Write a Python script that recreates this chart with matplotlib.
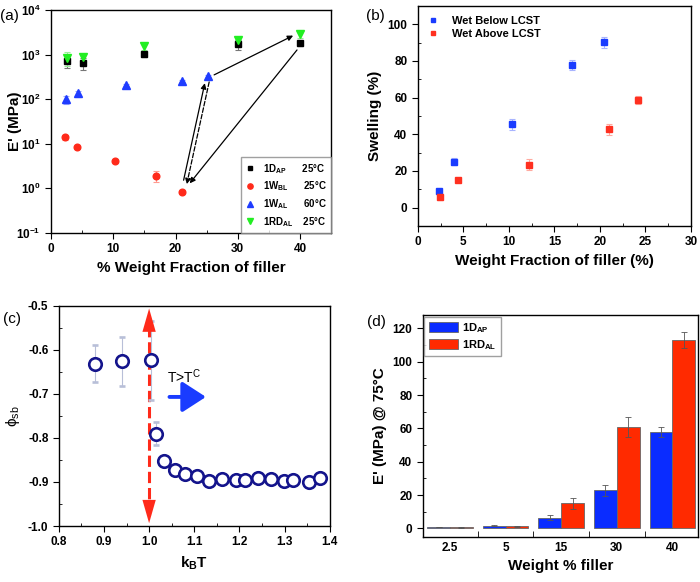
import numpy as np
import matplotlib
matplotlib.use('Agg')
import matplotlib.pyplot as plt
from matplotlib.ticker import MultipleLocator, FixedLocator
from matplotlib.lines import Line2D

plt.rcParams['font.family'] = ['Liberation Sans', 'DejaVu Sans']
plt.rcParams['font.weight'] = 'bold'
plt.rcParams['axes.labelweight'] = 'bold'
plt.rcParams['axes.linewidth'] = 1.0
plt.rcParams['xtick.major.size'] = 4
plt.rcParams['ytick.major.size'] = 4
plt.rcParams['xtick.minor.size'] = 2.5
plt.rcParams['ytick.minor.size'] = 2.5

# (a) storage modulus vs filler fraction
a_1d_x = [2.5, 5.2, 15, 30, 40]
a_1d_y = [713, 645, 1020, 1700, 1780]
a_1d_err = [220, 200, 150, 450, 250]
a_1wbl_x = [2.3, 4.1, 10.3, 16.8, 21.0]
a_1wbl_y = [13.9, 8.3, 4.1, 1.9, 0.83]
a_1wbl_err = [1.5, 0.8, 0.4, 0.5, 0.1]
a_1wal_x = [2.4, 4.4, 12.1, 21.0, 25.2]
a_1wal_y = [100, 135, 208, 256, 330]
a_1wal_err = [20, 20, 10, 15, 20]
a_1rd_x = [2.5, 5.2, 15, 30, 40]
a_1rd_y = [857, 890, 1550, 2100, 2850]
a_1rd_err = [300, 150, 300, 300, 500]
a_labels = ['1D$_\\mathregular{AP}$      25°C', '1W$_\\mathregular{BL}$      25°C',
            '1W$_\\mathregular{AL}$      60°C', '1RD$_\\mathregular{AL}$    25°C']

# (b) swelling
b_below_x = [2.3, 4.0, 10.3, 16.9, 20.4]
b_below_y = [8.9, 25.0, 45.4, 77.8, 90.2]
b_below_err = [1.5, 2, 3, 2.5, 3]
b_above_x = [2.4, 4.4, 12.2, 21.0, 24.2]
b_above_y = [5.8, 14.9, 23.3, 42.8, 58.7]
b_above_err = [1.5, 1, 3, 3, 2]

# (c) phi_sb vs kBT
c_x = [0.880, 0.939, 1.005, 1.016, 1.034, 1.057, 1.080, 1.107, 1.133, 1.162,
       1.192, 1.213, 1.241, 1.271, 1.298, 1.319, 1.354, 1.378]
c_y = [-0.632, -0.626, -0.624, -0.791, -0.852, -0.873, -0.883, -0.887, -0.897, -0.894,
       -0.895, -0.895, -0.891, -0.893, -0.897, -0.895, -0.899, -0.892]
c_err = [0.042, 0.056, 0.09, 0.026, 0.008, 0.008, 0.008, 0.008, 0.008, 0.008,
         0.008, 0.008, 0.008, 0.008, 0.008, 0.008, 0.008, 0.008]

# (d) bars
d_cats = ['2.5', '5', '15', '30', '40']
d_1d = [0.8, 1.6, 6.3, 22.8, 57.8]
d_1d_err = [0.2, 0.2, 1.5, 3.5, 3.0]
d_1rd = [0.7, 1.3, 15.0, 61.0, 113.0]
d_1rd_err = [0.2, 0.2, 3.5, 6.0, 5.0]

fig = plt.figure(figsize=(7.0, 5.82), dpi=100)

def style(ax):
    ax.tick_params(which='major', direction='out', labelsize=8.5)
    ax.tick_params(which='minor', direction='in')
    for lab in ax.get_xticklabels() + ax.get_yticklabels():
        lab.set_fontweight('bold')

# ---- (a)
ax = fig.add_axes([0.073, 0.5997, 0.400, 0.383])
ax.set_yscale('log')
ekw = dict(ls='none', capsize=2, elinewidth=0.8, capthick=0.8)
sets = [(a_1d_x, a_1d_y, a_1d_err, 's', 4.2, 'black', '#777777'),
        (a_1wbl_x, a_1wbl_y, a_1wbl_err, 'o', 4.8, '#ff2a1a', '#ff9a90'),
        (a_1wal_x, a_1wal_y, a_1wal_err, '^', 5.2, '#1f3cff', '#9aa8ff'),
        (a_1rd_x, a_1rd_y, a_1rd_err, 'v', 5.8, '#22ee22', '#99f099')]
handles = []
for (xs, ys, es, m, ms, c, ec), lab in zip(sets, a_labels):
    ax.errorbar(xs, ys, yerr=es, marker=m, ms=ms, color=c, ecolor=ec, **ekw)
    handles.append(Line2D([], [], ls='none', marker=m, ms=ms - 1, color=c, label=lab))
# arrows between states
akw = dict(arrowstyle='-|>', color='black', lw=0.9, mutation_scale=8)
ax.annotate('', xy=(a_1wal_x[-1] - 0.4, a_1wal_y[-1] * 0.8), xytext=(a_1wbl_x[-1] + 0.2, a_1wbl_y[-1] * 1.6), arrowprops=akw)
ax.annotate('', xy=(a_1wbl_x[-1] + 0.7, a_1wbl_y[-1] * 1.3), xytext=(a_1wal_x[-1] + 0.3, a_1wal_y[-1] * 0.85),
            arrowprops=dict(akw, linestyle='--'))
ax.annotate('', xy=(a_1rd_x[-1] - 0.7, a_1rd_y[-1] * 1.0), xytext=(a_1wal_x[-1] + 0.6, a_1wal_y[-1] * 1.0), arrowprops=akw)
ax.annotate('', xy=(a_1wbl_x[-1] + 1.0, a_1wbl_y[-1] * 1.4), xytext=(a_1d_x[-1] - 0.2, a_1d_y[-1] * 0.8), arrowprops=akw)
ax.set_xlim(0, 45)
ax.set_ylim(0.1, 1e4)
ax.xaxis.set_major_locator(MultipleLocator(10))
ax.xaxis.set_minor_locator(MultipleLocator(5))
ax.yaxis.set_minor_locator(FixedLocator([]))
ax.set_xlabel('% Weight Fraction of filler', fontsize=11)
ax.set_ylabel("E' (MPa)", fontsize=11)
ax.yaxis.set_label_coords(-0.105, 0.5)
leg = ax.legend(handles=handles, loc='lower right', fontsize=7, borderaxespad=0, frameon=True, fancybox=False,
                edgecolor='#888888', handletextpad=0.8, labelspacing=0.4, handlelength=1.0,
                borderpad=0.45)
for t in leg.get_texts():
    t.set_fontweight('bold')
style(ax)
fig.text(0.0, 0.965, '(a)', fontsize=11, fontweight='normal')

# ---- (b)
ax = fig.add_axes([0.597, 0.6117, 0.390, 0.378])
ax.errorbar(b_below_x, b_below_y, yerr=b_below_err, marker='s', ms=3.8, color='#1a3cff', ecolor='#a8b4ff', **ekw)
ax.errorbar(b_above_x, b_above_y, yerr=b_above_err, marker='s', ms=3.8, color='#ff3020', ecolor='#ffaaa0', **ekw)
ax.set_xlim(0, 30)
ax.set_ylim(-10, 110)
ax.xaxis.set_major_locator(MultipleLocator(5))
ax.xaxis.set_minor_locator(MultipleLocator(2.5))
ax.yaxis.set_major_locator(FixedLocator([0, 20, 40, 60, 80, 100]))
ax.yaxis.set_minor_locator(FixedLocator([10, 30, 50, 70, 90]))
ax.set_xlabel('Weight Fraction of filler (%)', fontsize=11)
ax.set_ylabel('Swelling (%)', fontsize=11)
bh = [Line2D([], [], ls='none', marker='s', ms=3.5, color='#1a3cff', label='Wet Below LCST'),
      Line2D([], [], ls='none', marker='s', ms=3.5, color='#ff3020', label='Wet Above LCST')]
leg = ax.legend(handles=bh, loc='upper left', fontsize=8, frameon=False, handletextpad=1.2, labelspacing=0.3, handlelength=1.0)
for t in leg.get_texts():
    t.set_fontweight('bold')
style(ax)
fig.text(0.523, 0.965, '(b)', fontsize=11, fontweight='normal')

# ---- (c)
ax = fig.add_axes([0.084, 0.0962, 0.387, 0.3785])
ax.errorbar(c_x, c_y, yerr=c_err, ls='none', marker='o', ms=9, mfc='white', mec='#14148c', mew=1.9,
            ecolor='#b8bfd8', elinewidth=0.8, capsize=2.5, capthick=0.8, zorder=3)
ax.plot([1.0, 1.0], [-0.975, -0.525], ls='--', color='#ff2a1a', lw=2.2, zorder=2)
hkw = dict(arrowstyle='-|>,head_length=1.4,head_width=0.4', color='#ff2a1a', lw=0, mutation_scale=12)
ax.annotate('', xy=(1.0, -0.5), xytext=(1.0, -0.54), arrowprops=hkw)
ax.annotate('', xy=(1.0, -1.0), xytext=(1.0, -0.96), arrowprops=hkw)
ax.annotate('', xy=(1.132, -0.707), xytext=(1.039, -0.707),
            arrowprops=dict(arrowstyle='-|>,head_length=0.85,head_width=0.55', color='#1a3cff', lw=2.8, mutation_scale=17))
ax.text(1.04, -0.675, 'T>T$^\\mathregular{C}$', fontsize=10, fontweight='normal')
ax.set_xlim(0.8, 1.4)
ax.set_ylim(-1.0, -0.5)
ax.xaxis.set_minor_locator(MultipleLocator(0.05))
ax.yaxis.set_minor_locator(MultipleLocator(0.05))
ax.set_xticks(np.arange(0.8, 1.41, 0.1))
ax.set_xticklabels(['%.1f' % v for v in np.arange(0.8, 1.41, 0.1)])
ax.set_yticks(np.arange(-1.0, -0.49, 0.1))
ax.set_yticklabels(['%.1f' % v for v in np.arange(-1.0, -0.49, 0.1)])
ax.set_xlabel('k$_\\mathregular{B}$T', fontsize=11)
ax.set_ylabel('\u03d5$_\\mathregular{sb}$', fontsize=11, fontweight='normal')
style(ax)
fig.text(0.004, 0.445, '(c)', fontsize=11, fontweight='normal')

# ---- (d)
ax = fig.add_axes([0.604, 0.0778, 0.393, 0.381])
pos = np.arange(len(d_cats))
w = 0.41
ax.bar(pos - w / 2, d_1d, width=w, yerr=d_1d_err, color='#0a2cff', edgecolor='#666666', linewidth=0.6,
       error_kw=dict(ecolor='#555555', elinewidth=0.6, capsize=2, capthick=0.6), label='1D$_\\mathregular{AP}$')
ax.bar(pos + w / 2, d_1rd, width=w, yerr=d_1rd_err, color='#ff2a00', edgecolor='#666666', linewidth=0.6,
       error_kw=dict(ecolor='#555555', elinewidth=0.6, capsize=2, capthick=0.6), label='1RD$_\\mathregular{AL}$')
ax.set_xlim(-0.49, 4.46)
ax.set_ylim(-5, 128)
ax.set_xticks(pos)
ax.set_xticklabels(d_cats)
ax.xaxis.set_minor_locator(FixedLocator(pos[:-1] + 0.5))
ax.tick_params(axis='x', which='major', length=0)
ax.tick_params(axis='x', which='minor', direction='out', length=4)
ax.yaxis.set_major_locator(MultipleLocator(20))
ax.yaxis.set_minor_locator(MultipleLocator(10))
ax.set_xlabel('Weight % filler', fontsize=11)
ax.set_ylabel("E' (MPa) @ 75°C", fontsize=11)
leg = ax.legend(loc='upper left', fontsize=8, frameon=True, fancybox=False, edgecolor='#888888',
                borderaxespad=0.15, handlelength=2.6, handleheight=1.0, labelspacing=0.3, handletextpad=0.4)
for t in leg.get_texts():
    t.set_fontweight('bold')
style(ax)
fig.text(0.524, 0.44, '(d)', fontsize=11, fontweight='normal')

fig.savefig('out.png', dpi=100)
